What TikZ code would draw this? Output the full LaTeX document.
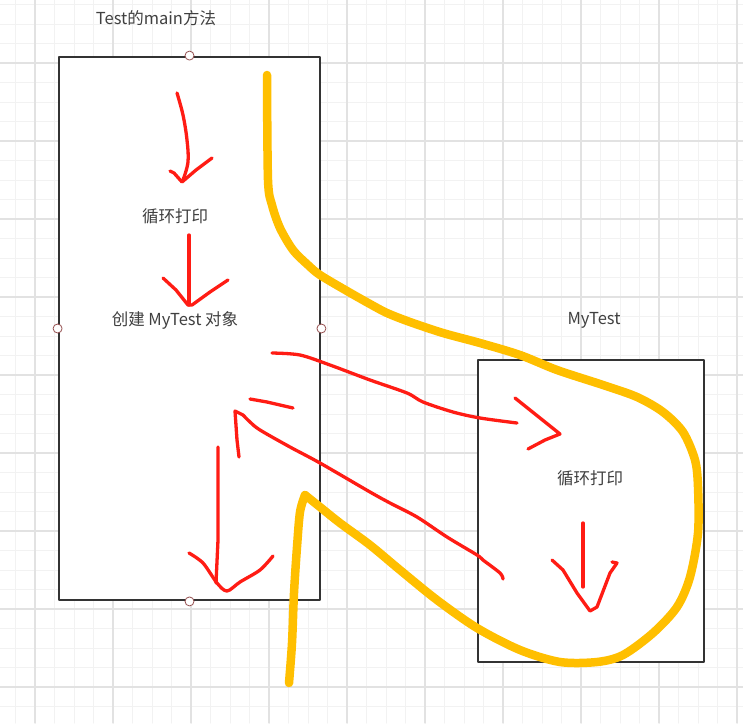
\documentclass[tikz,border=0pt]{standalone}
\usepackage{fontspec}
\setmainfont{Noto Sans CJK SC}
\definecolor{gridminor}{RGB}{242,242,242}
\definecolor{gridmajor}{RGB}{226,226,226}
\definecolor{boxgray}{RGB}{51,51,51}
\definecolor{textgray}{RGB}{64,64,64}
\definecolor{handlered}{RGB}{150,80,80}
\definecolor{penred}{RGB}{255,28,20}
\definecolor{markeryellow}{RGB}{255,191,0}
\begin{document}
\begin{tikzpicture}[x=1pt, y=-1pt, line cap=round, line join=round,
  box/.style={draw=boxgray, fill=white, line width=2.8pt, inner sep=0pt},
  handle/.style={circle, draw=handlered, fill=white, line width=0.8pt, minimum size=9pt, inner sep=0pt},
  caption/.style={text=textgray, font=\fontsize{16.5}{19}\selectfont},
  pen/.style={draw=penred, line width=3.3pt},
  marker/.style={draw=markeryellow, line width=8.5pt}]
\useasboundingbox (0,0) rectangle (743,723);
% background grid
\foreach \x in {0,...,37} \draw[gridminor, line width=1pt] (15.5+19.5*\x,0) -- (15.5+19.5*\x,723);
\foreach \y in {0,...,37} \draw[gridminor, line width=1pt] (0,4.5+19.5*\y) -- (743,4.5+19.5*\y);
\foreach \x in {0,...,9} \draw[gridmajor, line width=1.2pt] (35+78*\x,0) -- (35+78*\x,723);
\foreach \y in {0,...,8} \draw[gridmajor, line width=1.2pt] (0,63+78*\y) -- (743,63+78*\y);

\node [box, minimum width=261pt, minimum height=543pt] (mainbox) at (189.5,328.5) {};
\node [box, minimum width=226pt, minimum height=302pt] (testbox) at (591,511) {};
\foreach \a in {north,south,east,west} \node [handle] at (mainbox.\a) {};

\begin{scope}[every node/.style={caption}]
\node (maintitle) at (156,18) {Test的main方法};
\node (loop1) at (175,216) {循环打印};
\node (create) at (175,320) {创建 MyTest 对象};
\node (testtitle) at (594,320) {MyTest};
\node (loop2) at (590,478) {循环打印};
\end{scope}

% red pen strokes
\draw [pen] plot[smooth, tension=0.6] coordinates {(177,93) (183,115) (187,140) (188,162) (183,180)};
\draw [pen] (170,171) -- (174,173) -- (182,182) -- (196,170) -- (212,158);
\draw [pen] (189,235) -- (189,270) -- (189,305);
\draw [pen] (163,278) -- (176,290) -- (188,305) -- (192,305) -- (210,292) -- (228,280);
\draw [pen] plot[smooth, tension=0.5] coordinates {(272,353) (300,355) (330,365) (370,380) (407,393) (423,402) (453,412) (480,418) (517,423)};
\draw [pen] (515,398) -- (540,418) -- (560,434) -- (545,440) -- (528,449);
\draw [pen] plot[smooth, tension=0.5] coordinates {(503,579) (500,573) (483,560) (477,555) (447,537) (417,517) (390,503) (370,492) (320,463) (290,447) (260,430) (250,422) (243,415)};
\draw [pen] (243,415) -- (235,411) -- (237,440) -- (239,457);
\draw [pen] (250,399) -- (267,402) -- (293,408);
\draw [pen] (218,447) -- (218,540) -- (216,583);
\draw [pen] plot[smooth, tension=0.5] coordinates {(189,553) (203,563) (217,583) (227,591) (240,582) (260,570) (273,556)};
\draw [pen] (583,523) -- (583,587);
\draw [pen] (552,560) -- (563,570) -- (577,593) -- (590,611) -- (597,607) -- (610,573) -- (617,563) -- (612,562);

% yellow marker stroke
\draw [marker] plot[smooth, tension=0.5] coordinates {(267,75) (268,180) (272,205) (280,228) (293,250) (308,265) (320,275) (347,291) (370,304) (387,313) (410,322) (443,333) (480,343) (520,355) (557,370) (603,385) (637,397) (663,412) (683,432) (695,460) (698,487) (698,533) (690,577) (677,607) (653,633) (623,655) (597,662) (560,662) (520,650) (477,628) (437,600) (400,570) (370,545) (340,523) (320,507) (305,495)};
\draw [marker] plot[smooth, tension=0.5] coordinates {(305,495) (300,512) (297,547) (294,593) (292,643) (289,683)};
\end{tikzpicture}
\end{document}
